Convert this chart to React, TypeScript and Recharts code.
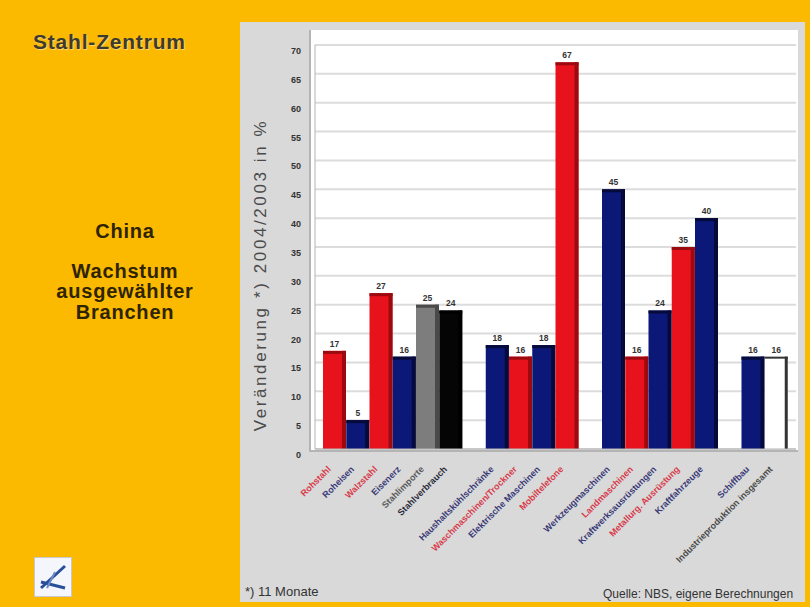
import React from 'react';
import { BarChart, Bar, XAxis, YAxis, CartesianGrid, LabelList } from 'recharts';

// '' = empty slot between the groups
const categories = [
  'Rohstahl', 'Roheisen', 'Walzstahl', 'Eisenerz', 'Stahlimporte', 'Stahlverbrauch',
  '',
  'Haushaltskühlschränke', 'Waschmaschinen/Trockner', 'Elektrische Maschinen', 'Mobiltelefone',
  '',
  'Werkzeugmaschinen', 'Landmaschinen', 'Kraftwerksausrüstungen', 'Metallurg. Ausrüstung', 'Kraftfahrzeuge',
  '',
  'Schiffbau', 'Industrieproduktion insgesamt',
];

const values = [
  17, 5, 27, 16, 25, 24,
  null,
  18, 16, 18, 67,
  null,
  45, 16, 24, 35, 40,
  null,
  16, 16,
];

const yTicks = [0, 5, 10, 15, 20, 25, 30, 35, 40, 45, 50, 55, 60, 65, 70];

const R = 'red', N = 'navy', G = 'gray', K = 'black', W = 'white';
const kinds = [R, N, R, N, G, K, '', N, R, N, R, '', N, R, N, R, N, '', N, W];

const fills: Record<string, [string, string]> = {
  red: ['#e8121c', '#9c0a10'],
  navy: ['#0b1877', '#050a3a'],
  gray: ['#7d7d7d', '#4a4a4a'],
  black: ['#050505', '#000000'],
  white: ['#ffffff', '#333333'],
};
const tickColors: Record<string, string> = {
  red: '#d83a4a',
  navy: '#3a3a78',
  gray: '#5a5a5a',
  black: '#2a2a3a',
  white: '#4a4a4a',
};

const data = categories.map((name, i) => ({ name, value: values[i] }));

const font = "Arial, 'Liberation Sans', sans-serif";

const Bar3D = (props: any) => {
  const { x, y, width, height, payload } = props;
  if (!height || height <= 0) return null;
  const kind = kinds[categories.indexOf(payload.name)];
  const [main, dark] = fills[kind] || fills.navy;
  if (kind === 'white') {
    return (
      <g>
        <rect x={x} y={y} width={width} height={height} fill="#fff" />
        <rect x={x + width - 3} y={y} width={3} height={height} fill={dark} />
        <rect x={x} y={y} width={width} height={2} fill={dark} />
      </g>
    );
  }
  return (
    <g>
      <rect x={x} y={y} width={width} height={height} fill={main} />
      <rect x={x + width - 4} y={y} width={4} height={height} fill={dark} />
      <rect x={x} y={y} width={width} height={3} fill={dark} />
    </g>
  );
};

const XTick = (props: any) => {
  const { x, y, payload } = props;
  const i = payload.index;
  if (!categories[i]) return null;
  return (
    <g transform={`translate(${x - 6},${y + 8})`}>
      <text transform="rotate(-45)" textAnchor="end" dy={4} fontSize={9} fontWeight="bold"
        fontFamily={font} fill={tickColors[kinds[i]]}>
        {categories[i]}
      </text>
    </g>
  );
};

const YTick = (props: any) => {
  const { x, y, payload } = props;
  return (
    <text x={x} y={y} dy={9} textAnchor="end" fontSize={9} fontWeight="bold" fontFamily={font} fill="#333">
      {payload.value}
    </text>
  );
};

const YLabel = () => (
  <text x={22} y={253} transform="rotate(-90, 22, 253)" textAnchor="middle" dominantBaseline="middle"
    fontSize={17} letterSpacing={2.6} fill="#4a4a4a" fontFamily={font}>
    Veränderung *) 2004/2003 in %
  </text>
);

const App: React.FC = () => {
  return (
    <div style={{ position: 'absolute', left: 0, top: 0, width: 810, height: 607, background: '#fbb900', overflow: 'hidden', fontFamily: font }}>
      <div style={{ position: 'absolute', left: 33, top: 30, fontSize: 21, letterSpacing: 0.8, fontWeight: 'bold', color: '#3e3a2c', textShadow: '1px 1px 1px rgba(255,255,255,0.45)' }}>
        Stahl-Zentrum
      </div>
      <div style={{ position: 'absolute', left: 0, top: 221, width: 250, textAlign: 'center', fontSize: 20, letterSpacing: 0.8, lineHeight: '20.5px', fontWeight: 'bold', color: '#2e2400' }}>
        <div style={{ marginBottom: 19 }}>China</div>
        <div>Wachstum</div>
        <div>ausgewählter</div>
        <div>Branchen</div>
      </div>
      <div style={{ position: 'absolute', left: 34, top: 557, width: 36, height: 38, background: '#f4f6fb', border: '1px solid #c9c9c9' }}>
        <svg width={36} height={38}>
          <path d="M6 30 L30 8" stroke="#2a4f9a" strokeWidth={3} />
          <path d="M6 24 L30 30" stroke="#2a4f9a" strokeWidth={3} />
          <path d="M12 30 L20 14" stroke="#6b8cc8" strokeWidth={2} />
        </svg>
      </div>

      <div style={{ position: 'absolute', left: 240, top: 22, width: 565, height: 580, background: '#d9d9d9' }} />
      <div style={{ position: 'absolute', left: 309, top: 30, width: 487, height: 420, background: '#ffffff', borderLeft: '2px solid #b4b4b4', borderBottom: '2px solid #b4b4b4' }} />

      <div style={{ position: 'absolute', left: 240, top: 22 }}>
        <BarChart width={565} height={580} data={data} margin={{ top: 23, right: 9, bottom: 0, left: 0 }} barCategoryGap={0}>
          <CartesianGrid vertical={false} stroke="#dcdcdc" strokeWidth={2} />
          <XAxis dataKey="name" interval={0} height={153} tick={<XTick />} tickLine={false}
            axisLine={{ stroke: '#b4b4b4' }} padding={{ left: 8, right: 8 }} tickSize={0} tickMargin={10} />
          <YAxis domain={[0, 70]} ticks={yTicks} width={75} tick={<YTick />} tickLine={false}
            axisLine={{ stroke: '#b4b4b4' }} tickMargin={8} label={<YLabel />} />
          <Bar dataKey="value" shape={<Bar3D />} isAnimationActive={false}>
            <LabelList dataKey="value" position="top" offset={4} fontSize={8.5} fontWeight="bold" fill="#333" fontFamily={font} />
          </Bar>
        </BarChart>
      </div>

      <div style={{ position: 'absolute', left: 245, top: 584, fontSize: 13, color: '#333' }}>*) 11 Monate</div>
      <div style={{ position: 'absolute', left: 603, top: 587, fontSize: 12, color: '#333' }}>Quelle: NBS, eigene Berechnungen</div>
    </div>
  );
};

export default App;
